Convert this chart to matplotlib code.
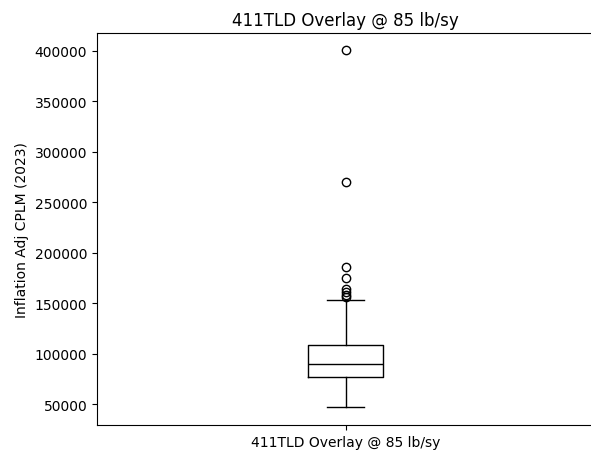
import matplotlib
matplotlib.use("Agg")
import matplotlib.pyplot as plt

# box statistics
label = "411TLD Overlay @ 85 lb/sy"
q1 = 76800
median = 90000
q3 = 108500
whisker_low = 47000
whisker_high = 153500
outliers = [156000, 158000, 161500, 164000, 174500, 185500, 270500, 401000]

stats = [{
    "label": label,
    "q1": q1,
    "med": median,
    "q3": q3,
    "whislo": whisker_low,
    "whishi": whisker_high,
    "fliers": outliers,
}]

fig = plt.figure(figsize=(5.91, 4.52), dpi=100)
ax = fig.add_axes([97 / 591, 26 / 452, 497 / 591, 392 / 452])

black = dict(color="black")
ax.bxp(stats, widths=0.15,
       boxprops=black, whiskerprops=black, capprops=black,
       medianprops=black,
       flierprops=dict(marker="o", markerfacecolor="none", markeredgecolor="black"))

ax.set_xlim(0.5, 1.5)
ax.set_ylim(29200, 417800)
ax.set_title(label)
ax.set_ylabel("Inflation Adj CPLM (2023)")

fig.savefig("out.png", dpi=100)
